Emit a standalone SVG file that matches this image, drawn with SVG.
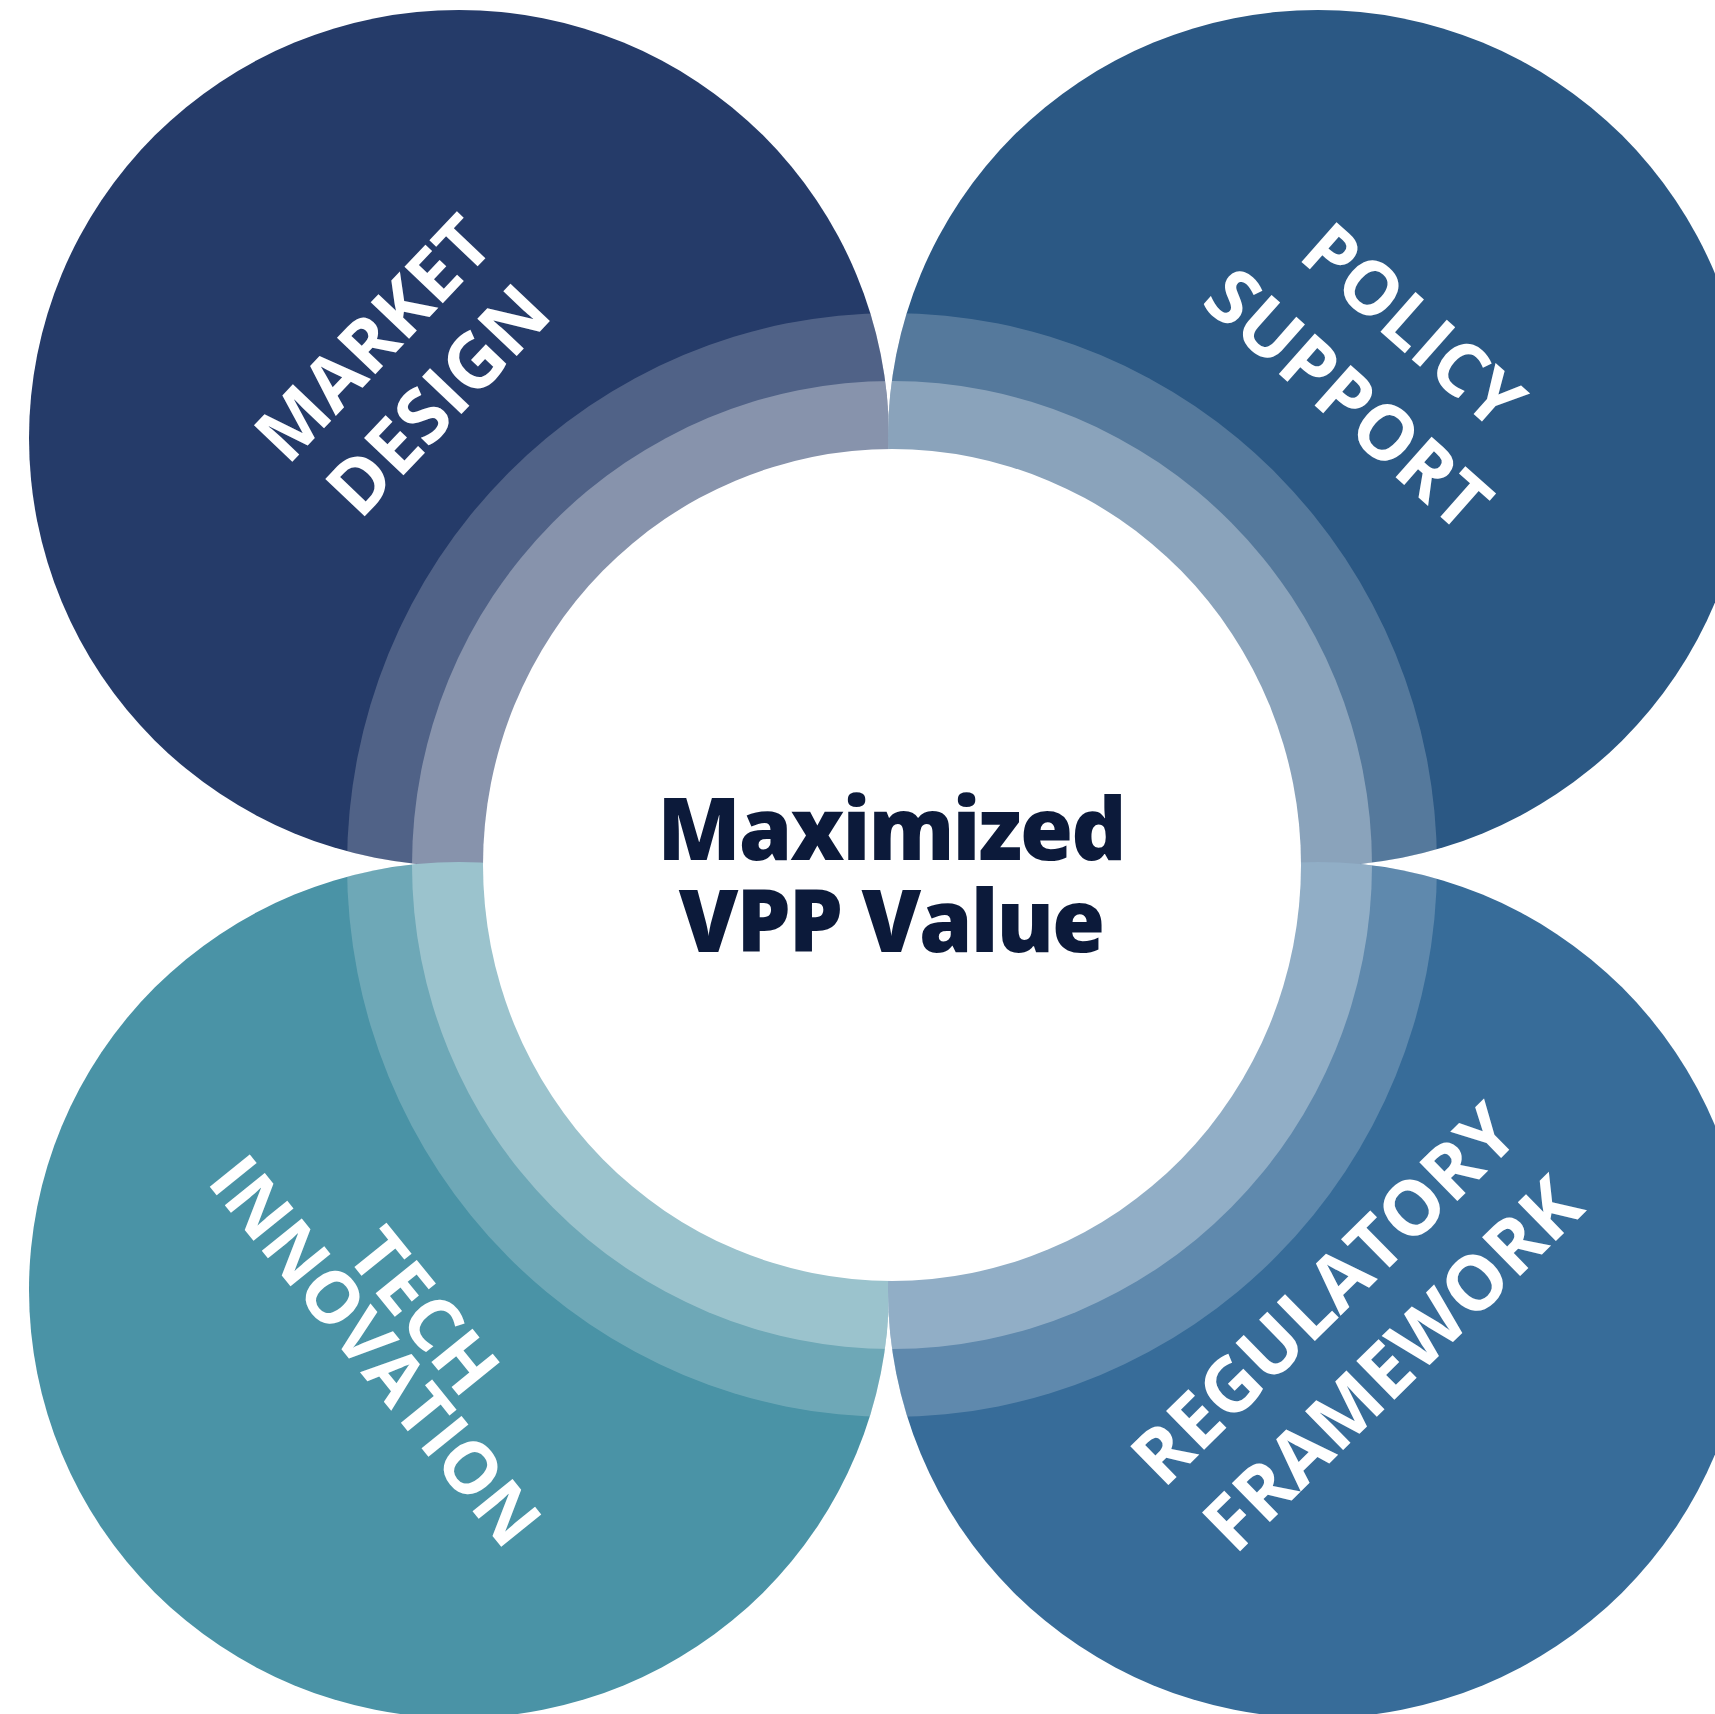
<svg xmlns="http://www.w3.org/2000/svg" width="1715" height="1714" viewBox="0 0 1715 1714">
  <style>
    .lbl { font-family: "Open Sans", "Liberation Sans", sans-serif; font-weight: 700; font-size: 76px; fill: #ffffff; text-anchor: middle; }
    .ctr { font-family: "Open Sans", "Liberation Sans", sans-serif; font-weight: 800; font-size: 86px; fill: #0c1a3a; text-anchor: middle; letter-spacing: -2px; }
  </style>
  <defs>
    <clipPath id="union">
      <ellipse cx="459" cy="438" rx="430" ry="428"/>
      <ellipse cx="1318" cy="438" rx="430" ry="428"/>
      <ellipse cx="459" cy="1290" rx="430" ry="428"/>
      <ellipse cx="1318" cy="1290" rx="430" ry="428"/>
    </clipPath>
  </defs>
  <rect width="1715" height="1714" fill="#ffffff"/>

  <g id="market-design">
    <ellipse cx="459" cy="438" rx="430" ry="428" fill="#253b69"/>
  </g>
  <g id="policy-support">
    <ellipse cx="1318" cy="438" rx="430" ry="428" fill="#2b5884"/>
  </g>
  <g id="tech-innovation">
    <ellipse cx="459" cy="1290" rx="430" ry="428" fill="#4a93a6"/>
  </g>
  <g id="regulatory-framework">
    <ellipse cx="1318" cy="1290" rx="430" ry="428" fill="#376c99"/>
  </g>

  <g id="rings" clip-path="url(#union)">
    <ellipse cx="892" cy="865" rx="545" ry="552" fill="#ffffff" fill-opacity="0.2"/>
    <ellipse cx="892" cy="865" rx="480" ry="484" fill="#ffffff" fill-opacity="0.3125"/>
  </g>

  <g id="labels">
    <g transform="translate(405 369) rotate(-46.5)">
      <text class="lbl" x="0" y="-17.9" style="font-size:74px">MARKET</text>
      <text class="lbl" x="0" y="72.1">DESIGN</text>
    </g>
    <g transform="translate(1381 362) rotate(41.5)">
      <text class="lbl" x="0" y="-22.4" style="font-size:74px">POLICY</text>
      <text class="lbl" x="0" y="76.6">SUPPORT</text>
    </g>
    <g transform="translate(401 1330) rotate(51)">
      <text class="lbl" x="0" y="-3.6" style="font-size:74px">TECH</text>
      <text class="lbl" x="0" y="58.4" style="font-size:72px">INNOVATION</text>
    </g>
    <g transform="translate(1358 1329) rotate(-44.5)">
      <text class="lbl" x="0" y="-21.7">REGULATORY</text>
      <text class="lbl" x="0" y="75.9">FRAMEWORK</text>
    </g>
  </g>

  <g id="center">
    <ellipse cx="892" cy="865" rx="409" ry="416" fill="#ffffff"/>
    <text class="ctr" x="891" y="860">Maximized</text>
    <text class="ctr" x="891" y="952">VPP Value</text>
  </g>
</svg>
